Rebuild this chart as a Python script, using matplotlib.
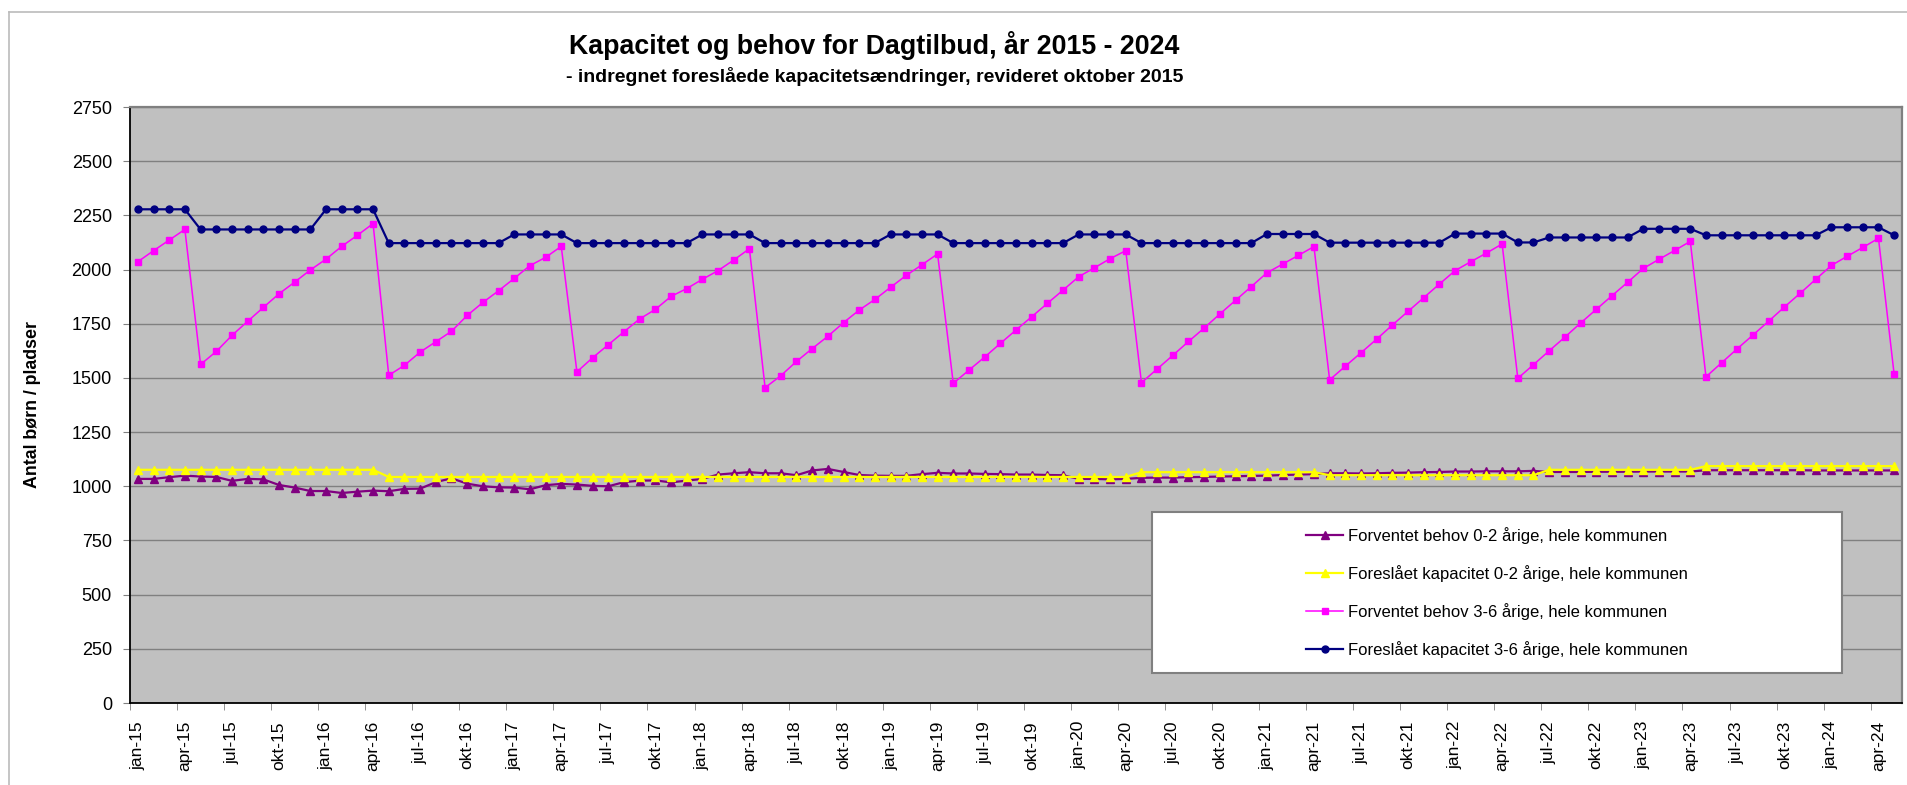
import matplotlib
matplotlib.use("Agg")
import matplotlib.pyplot as plt
from matplotlib.patches import Rectangle
from matplotlib.lines import Line2D

plt.rcParams['font.family'] = ['Liberation Sans', 'DejaVu Sans']

# maaneder jan-15 .. maj-24
mdr = ['jan', 'feb', 'mar', 'apr', 'maj', 'jun', 'jul', 'aug', 'sep', 'okt', 'nov', 'dec']
maaneder = []
for aar in range(15, 25):
    for m in mdr:
        maaneder.append('%s-%d' % (m, aar))
maaneder = maaneder[:113]

# Forventet behov 0-2 aarige
behov_02 = [1034, 1034, 1042, 1049, 1045, 1043, 1025, 1034, 1032, 1006, 994, 978,
            978, 969, 975, 980, 977, 988, 989, 1019, 1037, 1012, 1000, 995,
            994, 986, 1005, 1011, 1008, 1002, 1000, 1019, 1026, 1027, 1018, 1026,
            1034, 1054, 1060, 1065, 1060, 1060, 1051, 1073, 1080, 1066, 1052, 1049,
            1048, 1048, 1056, 1062, 1059, 1059, 1057, 1056, 1054, 1054, 1052, 1051,
            1034, 1034, 1032, 1034, 1039, 1040, 1040, 1042, 1043, 1045, 1046, 1048,
            1049, 1052, 1054, 1056, 1060, 1060, 1059, 1060, 1062, 1063, 1065, 1066,
            1068, 1068, 1069, 1069, 1069, 1071, 1066, 1066, 1066, 1067, 1067, 1067,
            1068, 1068, 1068, 1068, 1074, 1074, 1074, 1074, 1074, 1074, 1074, 1073,
            1073, 1073, 1073, 1073, 1073]

# Foreslaaet kapacitet 0-2 aarige
kap_02 = ([1076] * 16 + [1043] * 48 + [1065] * 12 + [1051] * 14
          + [1076] * 10 + [1093] * 13)

# Forventet behov 3-6 aarige
behov_36 = [2036, 2087, 2136, 2185, 1562, 1622, 1696, 1761, 1825, 1888, 1942, 1998,
            2048, 2107, 2158, 2212, 1512, 1558, 1619, 1667, 1715, 1788, 1848, 1902,
            1959, 2018, 2056, 2107, 1528, 1593, 1653, 1713, 1772, 1816, 1876, 1912,
            1955, 1995, 2044, 2096, 1455, 1510, 1576, 1635, 1692, 1755, 1813, 1862,
            1918, 1973, 2022, 2072, 1475, 1536, 1596, 1659, 1721, 1782, 1844, 1905,
            1967, 2008, 2050, 2087, 1478, 1541, 1604, 1668, 1730, 1795, 1858, 1921,
            1985, 2025, 2065, 2106, 1491, 1554, 1616, 1679, 1744, 1807, 1870, 1933,
            1995, 2036, 2076, 2118, 1498, 1561, 1625, 1688, 1753, 1816, 1879, 1941,
            2005, 2047, 2088, 2130, 1505, 1570, 1635, 1698, 1762, 1827, 1890, 1955,
            2019, 2061, 2102, 2144, 1516]

# Foreslaaet kapacitet 3-6 aarige
kap_36 = ([2278] * 4 + [2185] * 8
          + [2278] * 4 + [2122] * 8
          + [2162] * 4 + [2122] * 8
          + [2162] * 4 + [2122] * 8
          + [2162] * 4 + [2122] * 8
          + [2162] * 4 + [2122] * 8
          + [2164] * 4 + [2124] * 8
          + [2166] * 4 + [2125] * 2 + [2148] * 6
          + [2188] * 4 + [2158] * 8
          + [2195] * 4 + [2158] * 1)

W, H = 1908, 785
fig = plt.figure(figsize=(W / 100, H / 100), dpi=100)
ax = fig.add_axes([130 / W, 1 - 703 / H, (1902 - 130) / W, (703 - 107) / H])
ax.set_facecolor('#C0C0C0')

x = list(range(len(maaneder)))
ax.plot(x, behov_02, color='#800080', lw=1.6, marker='^', ms=5.5,
        label='Forventet behov 0-2 årige, hele kommunen')
ax.plot(x, kap_02, color='#FFFF00', lw=1.6, marker='^', ms=5.5,
        label='Foreslået kapacitet 0-2 årige, hele kommunen')
ax.plot(x, behov_36, color='#FF00FF', lw=1.1, marker='s', ms=5,
        label='Forventet behov 3-6 årige, hele kommunen')
ax.plot(x, kap_36, color='#000080', lw=1.6, marker='o', ms=5,
        label='Foreslået kapacitet 3-6 årige, hele kommunen')

ax.set_xlim(-0.5, len(maaneder) - 0.5)
ax.set_ylim(0, 2750)
ax.set_yticks(range(0, 2751, 250))
ax.yaxis.grid(True, color='#808080', lw=1)
ax.set_axisbelow(True)

pos = list(range(0, len(maaneder), 3))
ax.set_xticks(pos)
ax.set_xticklabels([maaneder[i] for i in pos], rotation=90, fontsize=12.5)
ax.set_xticks([p - 0.5 for p in pos], minor=True)
ax.tick_params(axis='x', which='major', length=0, pad=13)
ax.tick_params(axis='x', which='minor', length=5, color='#808080')
ax.tick_params(axis='y', labelsize=13, length=5, pad=8, color='#808080')

for s in ['left', 'bottom']:
    ax.spines[s].set_color('black')
    ax.spines[s].set_linewidth(1.3)
for s in ['top', 'right']:
    ax.spines[s].set_color('#808080')
    ax.spines[s].set_linewidth(1.6)

fig.text(874 / W, 1 - 46 / H, 'Kapacitet og behov for Dagtilbud, år 2015 - 2024',
         ha='center', va='center', fontsize=19.3, fontweight='bold')
fig.text(875 / W, 1 - 77 / H, '- indregnet foreslåede kapacitetsændringer, revideret oktober 2015',
         ha='center', va='center', fontsize=14, fontweight='bold')
fig.text(33 / W, 1 - 405 / H, 'Antal børn / pladser', rotation=90,
         ha='center', va='center', fontsize=12.8, fontweight='bold')

# legend-boks
lx0, lx1, ly0, ly1 = 1152, 1842, 512, 673
fig.add_artist(Rectangle((lx0 / W, 1 - ly1 / H), (lx1 - lx0) / W, (ly1 - ly0) / H,
                         transform=fig.transFigure, facecolor='white',
                         edgecolor='#808080', lw=1.5, zorder=5))
leg = fig.legend(loc='center', bbox_to_anchor=((lx0 + lx1) / 2 / W, 1 - (ly0 + ly1) / 2 / H),
                 bbox_transform=fig.transFigure, frameon=False, fontsize=12,
                 labelspacing=1.25, handlelength=2.2, handletextpad=0.3)
leg.set_zorder(6)

# ydre ramme
fig.add_artist(Line2D([9 / W, 1], [1 - 12 / H, 1 - 12 / H], transform=fig.transFigure,
                      color='#BBBBBB', lw=1.2))
fig.add_artist(Line2D([9 / W, 9 / W], [0, 1 - 12 / H], transform=fig.transFigure,
                      color='#BBBBBB', lw=1.2))

fig.savefig('out.png', dpi=100)
